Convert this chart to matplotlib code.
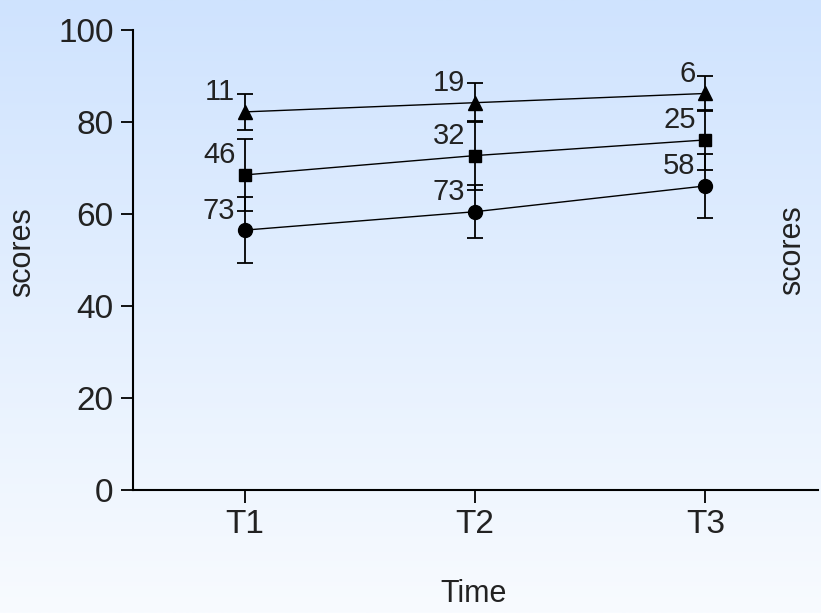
import numpy as np
import matplotlib

matplotlib.use("Agg")
import matplotlib.pyplot as plt
from matplotlib.colors import LinearSegmentedColormap

plt.rcParams["font.family"] = ["Liberation Sans", "DejaVu Sans"]

# data
times = ["T1", "T2", "T3"]
tri_mean = [82.2, 84.2, 86.2]
tri_err = [3.9, 4.2, 3.8]
tri_n = [11, 19, 6]
sq_mean = [68.5, 72.7, 76.1]
sq_err = [7.9, 7.5, 6.5]
sq_n = [46, 32, 25]
circ_mean = [56.5, 60.5, 66.1]
circ_err = [7.2, 5.8, 7.0]
circ_n = [73, 73, 58]

W, H = 821, 613
fig = plt.figure(figsize=(W / 100, H / 100), dpi=100)

# gradient background, light blue at top fading to near white
bg = fig.add_axes([0, 0, 1, 1], zorder=-10)
cmap = LinearSegmentedColormap.from_list("bg", ["#f8fbff", "#cfe3fe"])
bg.imshow(np.linspace(0, 1, 256).reshape(-1, 1), aspect="auto", cmap=cmap,
          origin="lower", extent=[0, 1, 0, 1])
bg.axis("off")

ax = fig.add_axes([133 / W, 1 - 490 / H, (818 - 133) / W, (490 - 30) / H])
ax.patch.set_alpha(0)

x = np.arange(1, len(times) + 1)
series = [
    (tri_mean, tri_err, tri_n, "^", 10),
    (sq_mean, sq_err, sq_n, "s", 9),
    (circ_mean, circ_err, circ_n, "o", 10),
]
for mean, err, ns, marker, ms in series:
    ax.errorbar(x, mean, yerr=err, fmt="-", marker=marker, ms=ms, color="black",
                mfc="black", mec="black", lw=1.0, elinewidth=1.3, capsize=5.5,
                capthick=1.3)
    for xi, yi, n in zip(x, mean, ns):
        ax.annotate(str(n), (xi, yi), xytext=(-7, 14), textcoords="offset points",
                    ha="right", va="center", fontsize=21, color="#222222")

ax.set_xlim(0.513, 3.49)
ax.set_ylim(0, 100)
ax.set_yticks([0, 20, 40, 60, 80, 100])
ax.set_xticks(x)
ax.set_xticklabels(times)
ax.tick_params(axis="both", direction="out", length=9, width=1.3, labelsize=24,
               colors="black", labelcolor="#222222", pad=5)
for side in ("top", "right"):
    ax.spines[side].set_visible(False)
for side in ("left", "bottom"):
    ax.spines[side].set_linewidth(1.5)

fig.text(22 / W, 1 - 252 / H, "scores", rotation=90, ha="center", va="center",
         fontsize=22, color="#222222")
fig.text(792 / W, 1 - 250 / H, "scores", rotation=90, ha="center", va="center",
         fontsize=22, color="#222222")
fig.text(474 / W, 1 - 594 / H, "Time", ha="center", va="center",
         fontsize=22, color="#222222")

fig.savefig("out.png", dpi=100)
